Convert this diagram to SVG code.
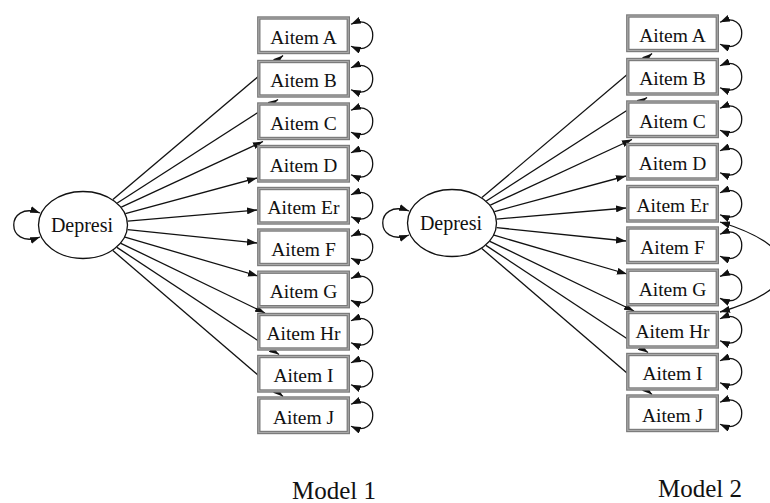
<svg xmlns="http://www.w3.org/2000/svg" xmlns:xlink="http://www.w3.org/1999/xlink" width="770" height="503" viewBox="0 0 770 503">
  <style>
    .bg { fill: #ffffff; }
    .edge { fill: none; stroke: #111; stroke-width: 1.3; marker-end: url(#ah); }
    .loop { fill: none; stroke: #111; stroke-width: 1.3; marker-start: url(#ah); marker-end: url(#ah); }
    .box-out { fill: #ffffff; stroke: #7a7a7a; stroke-width: 3.4; }
    .box-in { fill: none; stroke: #a9a9a9; stroke-width: 1.1; }
    .latent { fill: #ffffff; stroke: #111; stroke-width: 1.3; }
    .lbl { font-family: "Liberation Serif", "Times New Roman", serif; font-size: 19.5px; fill: #111; text-anchor: middle; }
    .title { font-family: "Liberation Serif", "Times New Roman", serif; font-size: 25px; fill: #111; text-anchor: middle; }
  </style>
  <defs>
    <marker id="ah" viewBox="0 0 10 7" refX="10" refY="3.5" markerWidth="10" markerHeight="7" markerUnits="userSpaceOnUse" orient="auto-start-reverse">
      <path d="M0,0 L10,3.5 L0,7 z" fill="#111"/>
    </marker>
  </defs>
  <rect class="bg" x="0" y="0" width="770" height="503"/>

  <!-- Model 1 -->
  <g id="model1">
    <g id="m1-connectors">
      <path class="edge" d="M112.9,199.6 L283,55.5"/>
      <path class="edge" d="M117.3,203 L278,99.5"/>
      <path class="edge" d="M121.3,207.2 L263,141.5"/>
      <path class="edge" d="M125.4,213.6 L257,178"/>
      <path class="edge" d="M127.7,221.1 L257,210"/>
      <path class="edge" d="M127.6,229.6 L257,243"/>
      <path class="edge" d="M125,237.2 L258,276"/>
      <path class="edge" d="M120.9,243.3 L265,313"/>
      <path class="edge" d="M116.9,247.4 L279,354.5"/>
      <path class="edge" d="M112.8,250.5 L283,396.5"/>
      <!-- variances -->
      <path class="loop" d="M40,213 C5,200 5,250 40,237"/>
      <path class="loop" transform="translate(351,35.25)" d="M0,-11 C29,-24 29,24 0,11"/>
      <path class="loop" transform="translate(351,78.75)" d="M0,-11 C29,-24 29,24 0,11"/>
      <path class="loop" transform="translate(351,121.25)" d="M0,-11 C29,-24 29,24 0,11"/>
      <path class="loop" transform="translate(351,163.75)" d="M0,-11 C29,-24 29,24 0,11"/>
      <path class="loop" transform="translate(351,205.75)" d="M0,-11 C29,-24 29,24 0,11"/>
      <path class="loop" transform="translate(351,247.25)" d="M0,-11 C29,-24 29,24 0,11"/>
      <path class="loop" transform="translate(351,289.45)" d="M0,-11 C29,-24 29,24 0,11"/>
      <path class="loop" transform="translate(351,331.75)" d="M0,-11 C29,-24 29,24 0,11"/>
      <path class="loop" transform="translate(351,373.75)" d="M0,-11 C29,-24 29,24 0,11"/>
      <path class="loop" transform="translate(351,415.25)" d="M0,-11 C29,-24 29,24 0,11"/>
    </g>
    <g id="m1-depresi"><ellipse class="latent" cx="83" cy="225" rx="44.5" ry="33.5"/><text class="lbl" x="82" y="231.5" style="font-size:20px">Depresi</text></g>
    <g id="m1-aitem-a"><rect class="box-out" x="258.8" y="18" width="89.5" height="34.5"/><rect class="box-in" x="258.8" y="18" width="89.5" height="34.5"/><text class="lbl" x="303.5" y="43.5">Aitem A</text></g>
    <g id="m1-aitem-b"><rect class="box-out" x="258.8" y="61.5" width="89.5" height="34.5"/><rect class="box-in" x="258.8" y="61.5" width="89.5" height="34.5"/><text class="lbl" x="303.5" y="87">Aitem B</text></g>
    <g id="m1-aitem-c"><rect class="box-out" x="258.8" y="104" width="89.5" height="34.5"/><rect class="box-in" x="258.8" y="104" width="89.5" height="34.5"/><text class="lbl" x="303.5" y="129.5">Aitem C</text></g>
    <g id="m1-aitem-d"><rect class="box-out" x="258.8" y="146.5" width="89.5" height="34.5"/><rect class="box-in" x="258.8" y="146.5" width="89.5" height="34.5"/><text class="lbl" x="303.5" y="172">Aitem D</text></g>
    <g id="m1-aitem-er"><rect class="box-out" x="258.8" y="188.5" width="89.5" height="34.5"/><rect class="box-in" x="258.8" y="188.5" width="89.5" height="34.5"/><text class="lbl" x="303.5" y="214">Aitem Er</text></g>
    <g id="m1-aitem-f"><rect class="box-out" x="258.8" y="230" width="89.5" height="34.5"/><rect class="box-in" x="258.8" y="230" width="89.5" height="34.5"/><text class="lbl" x="303.5" y="255.5">Aitem F</text></g>
    <g id="m1-aitem-g"><rect class="box-out" x="258.8" y="272.2" width="89.5" height="34.5"/><rect class="box-in" x="258.8" y="272.2" width="89.5" height="34.5"/><text class="lbl" x="303.5" y="297.7">Aitem G</text></g>
    <g id="m1-aitem-hr"><rect class="box-out" x="258.8" y="314.5" width="89.5" height="34.5"/><rect class="box-in" x="258.8" y="314.5" width="89.5" height="34.5"/><text class="lbl" x="303.5" y="340">Aitem Hr</text></g>
    <g id="m1-aitem-i"><rect class="box-out" x="258.8" y="356.5" width="89.5" height="34.5"/><rect class="box-in" x="258.8" y="356.5" width="89.5" height="34.5"/><text class="lbl" x="303.5" y="382">Aitem I</text></g>
    <g id="m1-aitem-j"><rect class="box-out" x="258.8" y="398" width="89.5" height="34.5"/><rect class="box-in" x="258.8" y="398" width="89.5" height="34.5"/><text class="lbl" x="303.5" y="423.5">Aitem J</text></g>
    <text class="title" x="334" y="499">Model 1</text>
  </g>

  <!-- Model 2: same loadings plus residual covariance Er <-> Hr -->
  <g id="model2">
    <g transform="translate(369,-2)">
      <g id="m2-connectors">
        <path class="edge" d="M112.9,199.6 L283,55.5"/>
        <path class="edge" d="M117.3,203 L278,99.5"/>
        <path class="edge" d="M121.3,207.2 L263,141.5"/>
        <path class="edge" d="M125.4,213.6 L257,178"/>
        <path class="edge" d="M127.7,221.1 L257,210"/>
        <path class="edge" d="M127.6,229.6 L257,243"/>
        <path class="edge" d="M125,237.2 L258,276"/>
        <path class="edge" d="M120.9,243.3 L265,313"/>
        <path class="edge" d="M116.9,247.4 L279,354.5"/>
        <path class="edge" d="M112.8,250.5 L283,396.5"/>
        <!-- variances -->
        <path class="loop" d="M40,213 C5,200 5,250 40,237"/>
        <path class="loop" transform="translate(351,35.25)" d="M0,-11 C29,-24 29,24 0,11"/>
        <path class="loop" transform="translate(351,78.75)" d="M0,-11 C29,-24 29,24 0,11"/>
        <path class="loop" transform="translate(351,121.25)" d="M0,-11 C29,-24 29,24 0,11"/>
        <path class="loop" transform="translate(351,163.75)" d="M0,-11 C29,-24 29,24 0,11"/>
        <path class="loop" transform="translate(351,205.75)" d="M0,-11 C29,-24 29,24 0,11"/>
        <path class="loop" transform="translate(351,247.25)" d="M0,-11 C29,-24 29,24 0,11"/>
        <path class="loop" transform="translate(351,289.45)" d="M0,-11 C29,-24 29,24 0,11"/>
        <path class="loop" transform="translate(351,331.75)" d="M0,-11 C29,-24 29,24 0,11"/>
        <path class="loop" transform="translate(351,373.75)" d="M0,-11 C29,-24 29,24 0,11"/>
        <path class="loop" transform="translate(351,415.25)" d="M0,-11 C29,-24 29,24 0,11"/>
        <!-- covariance Er <-> Hr -->
        <path class="loop" d="M351,224 C436,250 436,290 351,314"/>
      </g>
      <g id="m2-depresi"><ellipse class="latent" cx="83" cy="225" rx="44.5" ry="33.5"/><text class="lbl" x="82" y="231.5" style="font-size:20px">Depresi</text></g>
      <g id="m2-aitem-a"><rect class="box-out" x="258.8" y="18" width="89.5" height="34.5"/><rect class="box-in" x="258.8" y="18" width="89.5" height="34.5"/><text class="lbl" x="303.5" y="43.5">Aitem A</text></g>
      <g id="m2-aitem-b"><rect class="box-out" x="258.8" y="61.5" width="89.5" height="34.5"/><rect class="box-in" x="258.8" y="61.5" width="89.5" height="34.5"/><text class="lbl" x="303.5" y="87">Aitem B</text></g>
      <g id="m2-aitem-c"><rect class="box-out" x="258.8" y="104" width="89.5" height="34.5"/><rect class="box-in" x="258.8" y="104" width="89.5" height="34.5"/><text class="lbl" x="303.5" y="129.5">Aitem C</text></g>
      <g id="m2-aitem-d"><rect class="box-out" x="258.8" y="146.5" width="89.5" height="34.5"/><rect class="box-in" x="258.8" y="146.5" width="89.5" height="34.5"/><text class="lbl" x="303.5" y="172">Aitem D</text></g>
      <g id="m2-aitem-er"><rect class="box-out" x="258.8" y="188.5" width="89.5" height="34.5"/><rect class="box-in" x="258.8" y="188.5" width="89.5" height="34.5"/><text class="lbl" x="303.5" y="214">Aitem Er</text></g>
      <g id="m2-aitem-f"><rect class="box-out" x="258.8" y="230" width="89.5" height="34.5"/><rect class="box-in" x="258.8" y="230" width="89.5" height="34.5"/><text class="lbl" x="303.5" y="255.5">Aitem F</text></g>
      <g id="m2-aitem-g"><rect class="box-out" x="258.8" y="272.2" width="89.5" height="34.5"/><rect class="box-in" x="258.8" y="272.2" width="89.5" height="34.5"/><text class="lbl" x="303.5" y="297.7">Aitem G</text></g>
      <g id="m2-aitem-hr"><rect class="box-out" x="258.8" y="314.5" width="89.5" height="34.5"/><rect class="box-in" x="258.8" y="314.5" width="89.5" height="34.5"/><text class="lbl" x="303.5" y="340">Aitem Hr</text></g>
      <g id="m2-aitem-i"><rect class="box-out" x="258.8" y="356.5" width="89.5" height="34.5"/><rect class="box-in" x="258.8" y="356.5" width="89.5" height="34.5"/><text class="lbl" x="303.5" y="382">Aitem I</text></g>
      <g id="m2-aitem-j"><rect class="box-out" x="258.8" y="398" width="89.5" height="34.5"/><rect class="box-in" x="258.8" y="398" width="89.5" height="34.5"/><text class="lbl" x="303.5" y="423.5">Aitem J</text></g>
    </g>
    <text class="title" x="700" y="497">Model 2</text>
  </g>
</svg>
